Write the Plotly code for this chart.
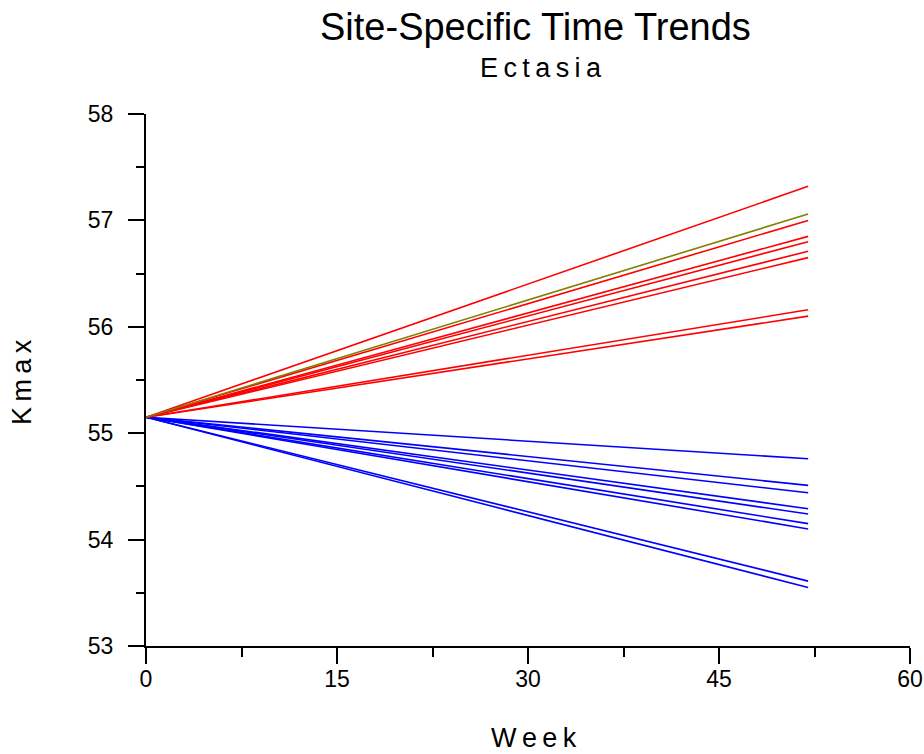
import plotly.graph_objects as go

# Fitted Kmax trends per site, all sharing a common intercept at week 0
weeks = [0, 52]
intercept = 55.15
rising_ends = [57.32, 57.00, 56.85, 56.80, 56.71, 56.65, 56.16, 56.10]
olive_end = [57.06]
falling_ends = [54.76, 54.51, 54.44, 54.29, 54.24, 54.15, 54.10, 53.61, 53.55]

x_ticks = [0, 15, 30, 45, 60]
y_ticks = [53, 54, 55, 56, 57, 58]

FONT = "Liberation Sans, Arial, sans-serif"
W, H = 924, 754
L, R, T, B = 146, 14, 114, 108
PW, PH = W - L - R, H - T - B


def spaced(s, sep="\u2009"):
    return sep.join(s)


fig = go.Figure()

for end in falling_ends:
    fig.add_trace(go.Scatter(x=weeks, y=[intercept, end], mode="lines",
                             line=dict(color="#0000FF", width=1.6),
                             showlegend=False, hoverinfo="skip"))
for end in rising_ends:
    fig.add_trace(go.Scatter(x=weeks, y=[intercept, end], mode="lines",
                             line=dict(color="#FF0000", width=1.6),
                             showlegend=False, hoverinfo="skip"))
for end in olive_end:
    fig.add_trace(go.Scatter(x=weeks, y=[intercept, end], mode="lines",
                             line=dict(color="#808000", width=1.6),
                             showlegend=False, hoverinfo="skip"))

axis_common = dict(
    showline=True, linecolor="black", linewidth=2,
    ticks="outside", ticklen=16, tickwidth=1.5, tickcolor="black",
    showgrid=False, zeroline=False, automargin=False,
    tickfont=dict(family=FONT, size=23, color="black"),
)

fig.update_xaxes(range=[0, 60], tickvals=x_ticks, ticklabelstandoff=-5,
                 minor=dict(dtick=7.5, tick0=0, ticks="outside", ticklen=9,
                            tickwidth=1.5, tickcolor="black", showgrid=False),
                 **axis_common)
fig.update_yaxes(range=[53, 58], tickvals=y_ticks, ticklabelstandoff=10,
                 minor=dict(dtick=0.5, tick0=53, ticks="outside", ticklen=8,
                            tickwidth=1.5, tickcolor="black", showgrid=False),
                 **axis_common)


def px_x(px):
    return (px - L) / PW


def px_y(py):
    return (H - B - py) / PH


fig.add_annotation(text="Site-Specific Time Trends", xref="paper", yref="paper",
                   x=px_x(535), y=px_y(27), showarrow=False,
                   xanchor="center", yanchor="middle",
                   font=dict(family=FONT, size=38, color="black"))
fig.add_annotation(text=spaced("Ectasia"), xref="paper", yref="paper",
                   x=px_x(541), y=px_y(68), showarrow=False,
                   xanchor="center", yanchor="middle",
                   font=dict(family=FONT, size=27, color="black"))
fig.add_annotation(text=spaced("Week"), xref="paper", yref="paper",
                   x=px_x(534), y=px_y(738), showarrow=False,
                   xanchor="center", yanchor="middle",
                   font=dict(family=FONT, size=27, color="black"))
fig.add_annotation(text=spaced("Kmax"), xref="paper", yref="paper",
                   x=px_x(22), y=px_y(382), showarrow=False, textangle=-90,
                   xanchor="center", yanchor="middle",
                   font=dict(family=FONT, size=27, color="black"))

fig.update_layout(
    width=W, height=H,
    margin=dict(l=L, r=R, t=T, b=B),
    paper_bgcolor="white", plot_bgcolor="white",
    showlegend=False,
)

fig.write_html("out.html")
